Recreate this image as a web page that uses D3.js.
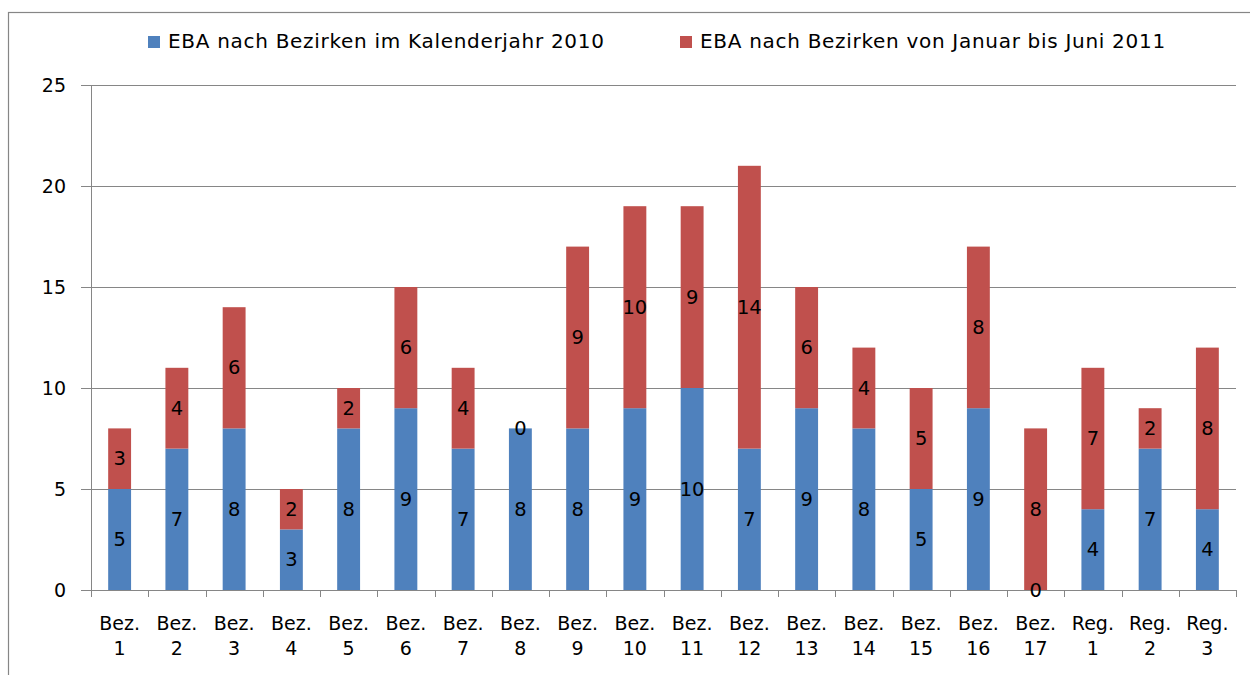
<!DOCTYPE html>
<html><head><meta charset="utf-8">
<script src="https://cdn.jsdelivr.net/npm/d3@7"></script>
<style>body{margin:0;background:#fff}svg{display:block}text{font-family:"DejaVu Sans",sans-serif;fill:#000}</style>
</head><body>
<script>
const categories = [["Bez.","1"],["Bez.","2"],["Bez.","3"],["Bez.","4"],["Bez.","5"],["Bez.","6"],["Bez.","7"],["Bez.","8"],["Bez.","9"],["Bez.","10"],["Bez.","11"],["Bez.","12"],["Bez.","13"],["Bez.","14"],["Bez.","15"],["Bez.","16"],["Bez.","17"],["Reg.","1"],["Reg.","2"],["Reg.","3"]];
const series2010 = [5,7,8,3,8,9,7,8,8,9,10,7,9,8,5,9,0,4,7,4];
const series2011 = [3,4,6,2,2,6,4,0,9,10,9,14,6,4,5,8,8,7,2,8];
const seriesNames = ["EBA nach Bezirken im Kalenderjahr 2010","EBA nach Bezirken von Januar bis Juni 2011"];
const yTicks = [0,5,10,15,20,25];

const W=1250,H=675;
const colors=["#4F81BD","#C0504D"];
const grid="#868686";
const svg=d3.select("body").append("svg").attr("width",W).attr("height",H);

// outer frame
svg.append("rect").attr("x",8.5).attr("y",12.5).attr("width",W+20).attr("height",H+20)
  .attr("fill","none").attr("stroke",grid).attr("stroke-width",1.2);

const x=d3.scaleBand().domain(d3.range(categories.length)).range([91,1236]).paddingInner(0.6).paddingOuter(0.3);
const xb=d3.scaleBand().domain(d3.range(categories.length)).range([91,1236]);
const y=d3.scaleLinear().domain([0,25]).range([590,85]);

// gridlines
svg.append("g").selectAll("line").data(yTicks).join("line")
  .attr("x1",81).attr("x2",1236).attr("y1",d=>Math.round(y(d))+0.5).attr("y2",d=>Math.round(y(d))+0.5)
  .attr("stroke",grid).attr("stroke-width",1);
// y axis line
svg.append("line").attr("x1",91.5).attr("x2",91.5).attr("y1",y(25)).attr("y2",y(0)).attr("stroke",grid);
// y labels
svg.append("g").selectAll("text").data(yTicks).join("text")
  .attr("x",66).attr("y",d=>y(d)).attr("text-anchor","end").attr("dominant-baseline","central")
  .style("font-size","19px").text(d=>d);
// x ticks at boundaries
const bounds=d3.range(categories.length+1).map(i=>i<categories.length?xb(i):xb.range()[1]);
svg.append("g").selectAll("line").data(bounds).join("line")
  .attr("x1",d=>Math.round(d)+0.5).attr("x2",d=>Math.round(d)+0.5).attr("y1",590).attr("y2",597)
  .attr("stroke",grid);

// bars
const stacked=categories.map((c,i)=>({i,a:series2010[i],b:series2011[i]}));
const g=svg.append("g");
g.selectAll("rect.s1").data(stacked).join("rect").attr("class","s1")
  .attr("x",d=>x(d.i)).attr("width",x.bandwidth())
  .attr("y",d=>y(d.a)).attr("height",d=>y(0)-y(d.a)).attr("fill",colors[0]);
g.selectAll("rect.s2").data(stacked).join("rect").attr("class","s2")
  .attr("x",d=>x(d.i)).attr("width",x.bandwidth())
  .attr("y",d=>y(d.a+d.b)).attr("height",d=>y(d.a)-y(d.a+d.b)).attr("fill",colors[1]);

// data labels
const lab=svg.append("g").style("font-size","19.5px").attr("text-anchor","middle").attr("dominant-baseline","central");
lab.selectAll("text.l1").data(stacked).join("text").attr("class","l1")
  .attr("x",d=>x(d.i)+x.bandwidth()/2).attr("y",d=>y(d.a/2)).text(d=>d.a);
lab.selectAll("text.l2").data(stacked).join("text").attr("class","l2")
  .attr("x",d=>x(d.i)+x.bandwidth()/2).attr("y",d=>y(d.a+d.b/2)).text(d=>d.b);

// x labels
const xl=svg.append("g").style("font-size","19px").attr("text-anchor","middle");
xl.selectAll("text").data(categories).join("text")
  .attr("x",(d,i)=>xb(i)+xb.bandwidth()/2).attr("y",630)
  .each(function(d){
    const t=d3.select(this);
    t.append("tspan").attr("x",t.attr("x")).attr("y",630).text(d[0]);
    t.append("tspan").attr("x",t.attr("x")).attr("y",655).text(d[1]);
  });

// legend
const legX=[148,680];
const leg=svg.append("g");
seriesNames.forEach((n,k)=>{
  leg.append("rect").attr("x",legX[k]).attr("y",36).attr("width",12).attr("height",12).attr("fill",colors[k]);
  leg.append("text").attr("x",legX[k]+20).attr("y",48).style("font-size","20px").style("letter-spacing","0.7px").text(n);
});
</script>
</body></html>
